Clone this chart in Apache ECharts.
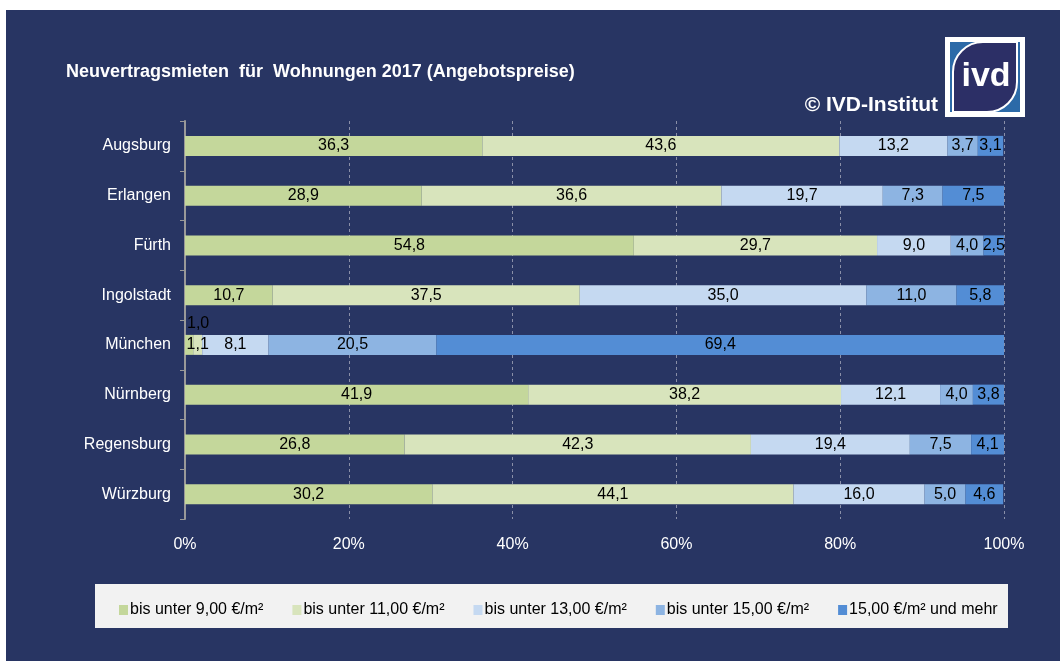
<!DOCTYPE html>
<html><head><meta charset="utf-8">
<script src="https://cdn.jsdelivr.net/npm/echarts@6/dist/echarts.min.js"></script>
<style>html,body{margin:0;padding:0;background:#fff}#c{width:1060px;height:661px}</style>
</head><body><div id="c"></div>
<script>
var cities = ['Augsburg','Erlangen','Fürth','Ingolstadt','München','Nürnberg','Regensburg','Würzburg'];
var seriesNames = ['bis unter 9,00 €/m²','bis unter 11,00 €/m²','bis unter 13,00 €/m²','bis unter 15,00 €/m²','15,00 €/m² und mehr'];
var s1 = [36.3, 28.9, 54.8, 10.7, 1.0, 41.9, 26.8, 30.2];
var s2 = [43.6, 36.6, 29.7, 37.5, 1.1, 38.2, 42.3, 44.1];
var s3 = [13.2, 19.7, 9.0, 35.0, 8.1, 12.1, 19.4, 16.0];
var s4 = [3.7, 7.3, 4.0, 11.0, 20.5, 4.0, 7.5, 5.0];
var s5 = [3.1, 7.5, 2.5, 5.8, 69.4, 3.8, 4.1, 4.6];
var xTicks = ['0%','20%','40%','60%','80%','100%'];
var colors = ['#c4d79b','#d8e4bc','#c5d9f1','#8db4e2','#538dd5'];
var font = '"Liberation Sans", Arial, sans-serif';
var navy = '#283563';

function fmt(p){ return p.value.toFixed(1).replace('.', ','); }
var allData = [s1,s2,s3,s4,s5];
var series = allData.map(function(arr, i){
  return {
    name: seriesNames[i], type: 'bar', stack: 'a', barWidth: 20,
    itemStyle: {color: colors[i]},
    label: {show: true, position: 'inside', color: '#000', fontSize: 16, fontFamily: font, formatter: fmt},
    data: arr.map(function(v, j){
      if (i === 0 && cities[j] === 'München') {
        return {value: v, label: {position: [2, -19], align: 'left'}};
      }
      return v;
    })
  };
});

var chart = echarts.init(document.getElementById('c'));
chart.setOption({
  animation: false,
  backgroundColor: '#fff',
  textStyle: {fontFamily: font},
  graphic: [
    {type: 'rect', z: -10, shape: {x: 6, y: 10, width: 1054, height: 651}, style: {fill: navy}},
    {type: 'rect', shape: {x: 95, y: 584, width: 913, height: 44}, style: {fill: '#f2f2f2'}, z: -5},
    {type: 'text', left: 66, top: 63, style: {text: 'Neuvertragsmieten  für  Wohnungen 2017 (Angebotspreise)', fill: '#fff', font: 'bold 18px ' + font}},
    {type: 'text', right: 1060 - 938, top: 95, style: {text: '© IVD-Institut', fill: '#fff', font: 'bold 21px ' + font}},
    {type: 'rect', shape: {x: 945, y: 37, width: 80, height: 80}, style: {fill: '#fff'}},
    {type: 'rect', shape: {x: 950, y: 42, width: 70, height: 70}, style: {fill: '#2c6aa8'}},
    {type: 'rect', shape: {x: 953, y: 42, width: 64, height: 70, r: [30, 0, 30, 0]}, style: {fill: '#2c2f66', stroke: '#fff', lineWidth: 2}},
    {type: 'text', x: 986, y: 77, style: {text: 'ivd', fill: '#fff', font: 'bold 34px ' + font, align: 'center', verticalAlign: 'middle'}}
  ],
  legend: {
    data: seriesNames, top: 597, left: 114, itemWidth: 9, itemHeight: 10, itemGap: 29,
    icon: 'rect', textStyle: {color: '#000', fontSize: 16, fontFamily: font, padding: [0, 0, 0, -3]}
  },
  grid: {left: 185, right: 56, top: 121, bottom: 142},
  xAxis: {
    type: 'value', min: 0, max: 100, interval: 20,
    axisLabel: {color: '#fff', fontSize: 16, margin: 18, formatter: function(v){ return xTicks[Math.round(v/20)]; }},
    axisLine: {show: false}, axisTick: {show: false},
    splitLine: {show: true, lineStyle: {color: '#8a8fa8', type: [3, 3], width: 1}}
  },
  yAxis: {
    type: 'category', inverse: true, data: cities,
    axisLine: {show: true, lineStyle: {color: '#999', width: 2}},
    axisTick: {show: true, length: 5, lineStyle: {color: '#999'}},
    axisLabel: {color: '#fff', fontSize: 16, margin: 14}
  },
  series: series
});
</script></body></html>
